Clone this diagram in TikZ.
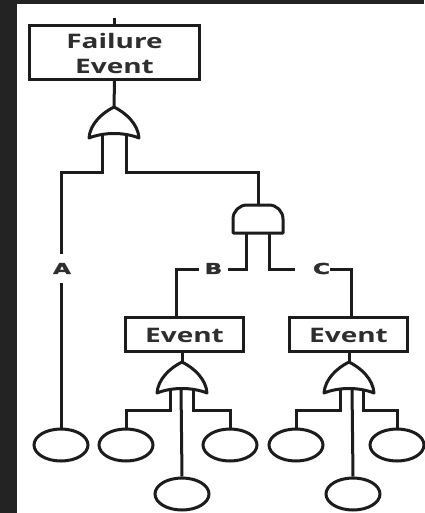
\documentclass[tikz,border=0pt]{standalone}
\usepackage{fontspec}
\setmainfont{Open Sans}
\newfontfamily\lblfont{Open Sans}[FakeStretch=1.4]
\newfontfamily\letfont{DejaVu Sans}[FakeStretch=1.55, FakeBold=1.5]
\usetikzlibrary{shapes.geometric}
\definecolor{ink}{HTML}{1C1C1C}
\definecolor{txt}{HTML}{2E2E2E}
\definecolor{frame}{HTML}{232323}
\tikzset{
  wire/.style={draw=ink, line width=3pt},
  gate/.style={draw=ink, fill=white, line width=3pt, line join=round},
  evbox/.style={draw=ink, line width=3pt, fill=white, inner sep=0pt, align=center,
    font=\lblfont\bfseries\fontsize{20}{25}\selectfont, text=txt},
  basic/.style={ellipse, draw=ink, line width=3pt, fill=white, minimum width=54pt, minimum height=32pt, inner sep=0pt},
  lbl/.style={inner sep=0pt, font=\letfont\bfseries\fontsize{15}{15}\selectfont, text=txt},
  orgate/.pic={\path[gate] (-25,0) .. controls (-24,-14) and (-12,-25) .. (0,-31)
      .. controls (12,-25) and (24,-14) .. (25,0)
      .. controls (10,-6) and (-10,-6) .. (-25,0) -- cycle;},
  andgate/.pic={\path[gate] (-25,0) -- (-25,-14) .. controls (-25,-21.7) and (-18.7,-28) .. (-11,-28)
      -- (11,-28) .. controls (18.7,-28) and (25,-21.7) .. (25,-14) -- (25,0) -- cycle;}
}
\begin{document}
\begin{tikzpicture}[x=1pt,y=-1pt]
\fill[frame] (0,0) rectangle (424,513);
\fill[white] (17,4) rectangle (424,513);
\useasboundingbox (0,0) rectangle (424,513);

% top event
\node[evbox, minimum width=170pt, minimum height=54pt, text height=43pt, text depth=0pt] (fail) at (114.5,52.5) {Failure\\Event};
\coordinate (stub) at (114.5,18);
\draw[wire] (stub) -- (fail.north);

% gate positions
\coordinate (or1) at (114,138);
\coordinate (and1) at (258,233);
\coordinate (orB) at (182,393);
\coordinate (orC) at (349,393);
\coordinate (or1top) at (114,107);
\coordinate (orBtop) at (182,363);
\coordinate (orCtop) at (349,363);

% intermediate events
\node[evbox, minimum width=118pt, minimum height=34pt, text height=16pt, text depth=0pt] (evB) at (184.5,334.5) {Event};
\node[evbox, minimum width=118pt, minimum height=34pt, text height=16pt, text depth=0pt] (evC) at (348.5,334.5) {Event};

% basic events
\node[basic] (bA) at (61,445) {};
\node[basic] (b1) at (126,445) {};
\node[basic] (b3) at (230,445) {};
\node[basic] (b2) at (182,494) {};
\node[basic] (c1) at (296,445) {};
\node[basic] (c3) at (397,445) {};
\node[basic] (c2) at (353,494) {};

% labels
\node[lbl] (labA) at (62,268.5) {A};
\node[lbl] (labB) at (213.5,268.5) {B};
\node[lbl] (labC) at (321.5,268.5) {C};

% wires of top OR gate
\coordinate (o1l) at (102,133);
\coordinate (o1r) at (126,133);
\coordinate (aTop) at (61,254);
\coordinate (aBot) at (61,283);
\draw[wire] (fail.south) -- (or1top);
\draw[wire] (o1l) |- (61,172) -- (aTop);
\draw[wire] (aBot) -- (bA.north);
\draw[wire] (o1r) |- (258,172) -- (258,205);

% wires of AND gate
\coordinate (al) at (246.5,228);
\coordinate (ar) at (269.5,228);
\coordinate (bgapR) at (228,269);
\coordinate (bgapL) at (199,269);
\coordinate (bdown) at (176,269);
\coordinate (cgapL) at (295,269);
\coordinate (cgapR) at (330,269);
\coordinate (cdown) at (351,269);
\draw[wire] (al) |- (bgapR);
\draw[wire] (bgapL) -- (bdown) -- (bdown |- evB.north);
\draw[wire] (ar) |- (cgapL);
\draw[wire] (cgapR) -- (cdown) -- (cdown |- evC.north);

% wires of OR gate B
\draw[wire] (evB.south -| orBtop) -- (orBtop);
\coordinate (bl) at (170,388);
\coordinate (bm) at (181,388);
\coordinate (br) at (193,388);
\draw[wire] (bl) |- (126,410) -- (b1.north);
\draw[wire] (bm) -- (b2.north);
\draw[wire] (br) |- (230,410) -- (b3.north);

% wires of OR gate C
\draw[wire] (evC.south -| orCtop) -- (orCtop);
\coordinate (cl) at (340,388);
\coordinate (cm) at (352,388);
\coordinate (cr) at (363,388);
\draw[wire] (cl) |- (296,410) -- (c1.north);
\draw[wire] (cm) -- (c2.north);
\draw[wire] (cr) |- (397,410) -- (c3.north);

% gates on top
\pic at (or1) {orgate};
\pic at (and1) {andgate};
\pic at (orB) {orgate};
\pic at (orC) {orgate};
\end{tikzpicture}
\end{document}
